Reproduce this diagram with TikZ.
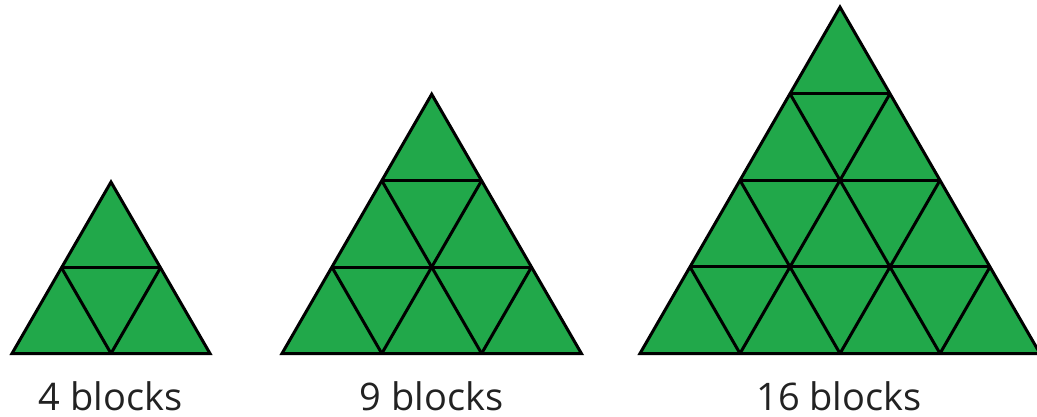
\documentclass[tikz,border=0pt]{standalone}
\usepackage{fontspec}
\setmainfont{Open Sans}
\definecolor{tgreen}{RGB}{33,168,74}
\definecolor{ttext}{RGB}{34,34,34}
\tikzset{
  tfill/.style={fill=tgreen},
  tline/.style={draw=black, line width=3pt, line cap=butt},
  touter/.style={draw=black, line width=3pt, line join=miter},
  lbl/.style={text=ttext, font=\fontsize{38}{44}\selectfont, anchor=base, inner sep=0pt}
}
\newcommand\tgrid[4]{% left x, base y, rows n, small side s
  \pgfmathsetmacro\hh{#4*0.8660254}
  \fill[tfill] (#1,#2) -- ({#1+#3*#4},#2) -- ({#1+#3*#4/2},{#2-#3*\hh}) -- cycle;
  \pgfmathtruncatemacro\nm{#3-1}
  \foreach \i in {1,...,\nm}{
    \draw[tline] ({#1+\i*#4/2},{#2-\i*\hh}) -- ({#1+#3*#4-\i*#4/2},{#2-\i*\hh});
    \draw[tline] ({#1+\i*#4},#2) -- ({#1+\i*#4+(#3-\i)*#4/2},{#2-(#3-\i)*\hh});
    \draw[tline] ({#1+\i*#4},#2) -- ({#1+\i*#4/2},{#2-\i*\hh});
  }
  \draw[touter] (#1,#2) -- ({#1+#3*#4},#2) -- ({#1+#3*#4/2},{#2-#3*\hh}) -- cycle;
}
\begin{document}
\begin{tikzpicture}[x=1pt,y=-1pt]
\useasboundingbox (0,0) rectangle (1037,417);
\clip (0,0) rectangle (1037,417);
\tgrid{12}{353.5}{2}{99}
\tgrid{282}{353.5}{3}{99.8}
\tgrid{640}{353.5}{4}{100}
\node[lbl] (l1) at (110.5,410.5) {4 blocks};
\node[lbl] (l2) at (431.7,410.5) {9 blocks};
\node[lbl] (l3) at (839,410.5) {16 blocks};
\end{tikzpicture}
\end{document}
